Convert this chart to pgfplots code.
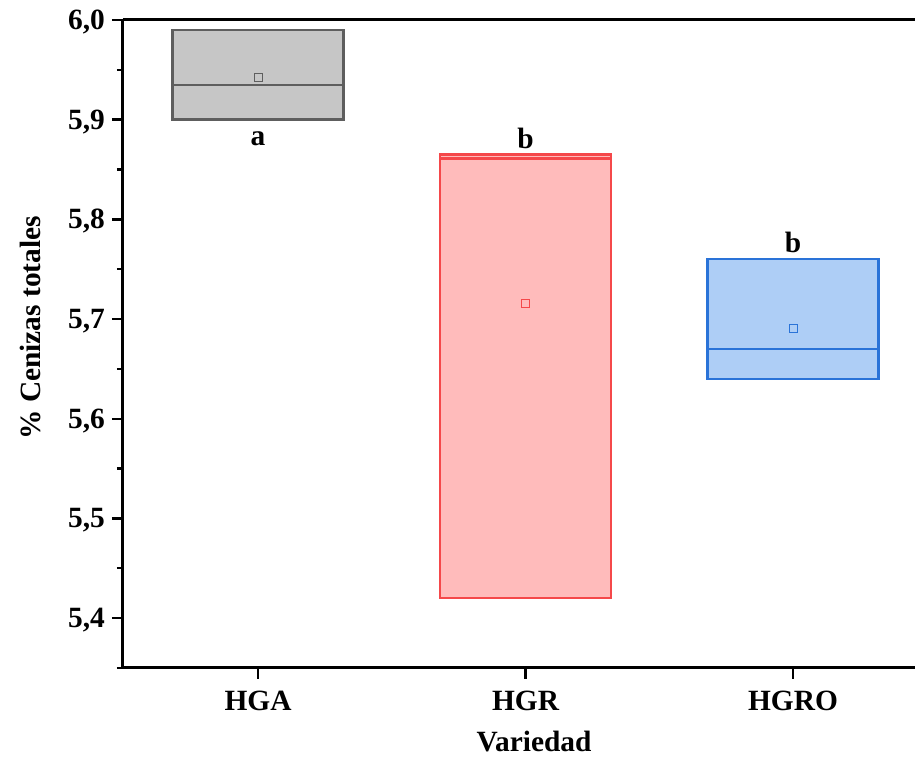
\documentclass[border=0pt]{standalone}
\usepackage{fontspec}
\setmainfont{Liberation Serif}
\usepackage{pgfplots}
\pgfplotsset{compat=1.18}
\definecolor{grayfill}{HTML}{C6C6C6}
\definecolor{grayedge}{HTML}{5E5E5E}
\definecolor{redfill}{HTML}{FFBBBB}
\definecolor{rededge}{HTML}{F5484A}
\definecolor{bluefill}{HTML}{AECEF6}
\definecolor{blueedge}{HTML}{2A73D8}
\newcommand{\lblfont}{\fontsize{14.7}{17}\selectfont\bfseries}
\begin{document}
\begin{tikzpicture}
\begin{axis}[name=ax, scale only axis, width=396pt, height=324pt,
  xmin=0.495, xmax=3.456, ymin=5.35, ymax=6.0,
  axis y line*=left,
  xtick={1,2,3}, xticklabels={HGA,HGR,HGRO},
  ytick={5.4,5.5,5.6,5.7,5.8,5.9,6.0},
  minor ytick={5.35,5.45,5.55,5.65,5.75,5.85,5.95},
  xtick pos=bottom, ytick pos=left,
  tick align=outside,
  major tick length=5.5pt, minor tick length=3pt,
  axis line style={line width=1.5pt},
  every tick/.style={line width=1.2pt, black},
  /pgf/number format/.cd, use comma, fixed, fixed zerofill, precision=1, assume math mode=true,
  /pgfplots/.cd,
  tick label style={font=\lblfont},
  xticklabel style={yshift=-2.5pt},
  yticklabel style={yshift=-1pt},
  label style={font=\lblfont},
  xlabel={Variedad}, ylabel={\% Cenizas totales},
  xlabel style={at={(axis description cs:0.519,0)}, anchor=center, yshift=-37pt},
  ylabel style={at={(axis description cs:0,0.525)}, anchor=center, yshift=46.5pt},
  clip=false,
]
% boxes (lower quartile, upper quartile) at x = pos +- 0.32
\addplot[draw=grayedge, fill=grayfill, line width=1.2pt] coordinates {(0.68,5.9) (1.32,5.9) (1.32,5.99) (0.68,5.99)} -- cycle;
\addplot[draw=grayedge, line width=1.2pt] coordinates {(0.68,5.935) (1.32,5.935)};
\addplot[draw=rededge, fill=redfill, line width=1.2pt] coordinates {(1.68,5.42) (2.32,5.42) (2.32,5.865) (1.68,5.865)} -- cycle;
\addplot[draw=rededge, line width=1.2pt] coordinates {(1.68,5.861) (2.32,5.861)};
\addplot[draw=blueedge, fill=bluefill, line width=1.2pt] coordinates {(2.68,5.64) (3.32,5.64) (3.32,5.76) (2.68,5.76)} -- cycle;
\addplot[draw=blueedge, line width=1.2pt] coordinates {(2.68,5.67) (3.32,5.67)};
% means
\addplot[only marks, mark=square, mark size=2pt, mark options={draw=grayedge, fill=grayfill, line width=0.5pt}] coordinates {(1,5.942)};
\addplot[only marks, mark=square, mark size=2pt, mark options={draw=rededge, fill=redfill, line width=0.5pt}] coordinates {(2,5.716)};
\addplot[only marks, mark=square, mark size=2pt, mark options={draw=blueedge, fill=bluefill, line width=0.5pt}] coordinates {(3,5.691)};
\node[font=\lblfont] at (axis cs:1,5.881) {a};
\node[font=\lblfont] at (axis cs:2,5.881) {b};
\node[font=\lblfont] at (axis cs:3,5.777) {b};
\end{axis}
\pgfresetboundingbox
\path[use as bounding box] ([xshift=-61.5pt,yshift=-44.5pt]ax.south west) rectangle ([yshift=10pt]ax.north east);
\end{tikzpicture}
\end{document}
